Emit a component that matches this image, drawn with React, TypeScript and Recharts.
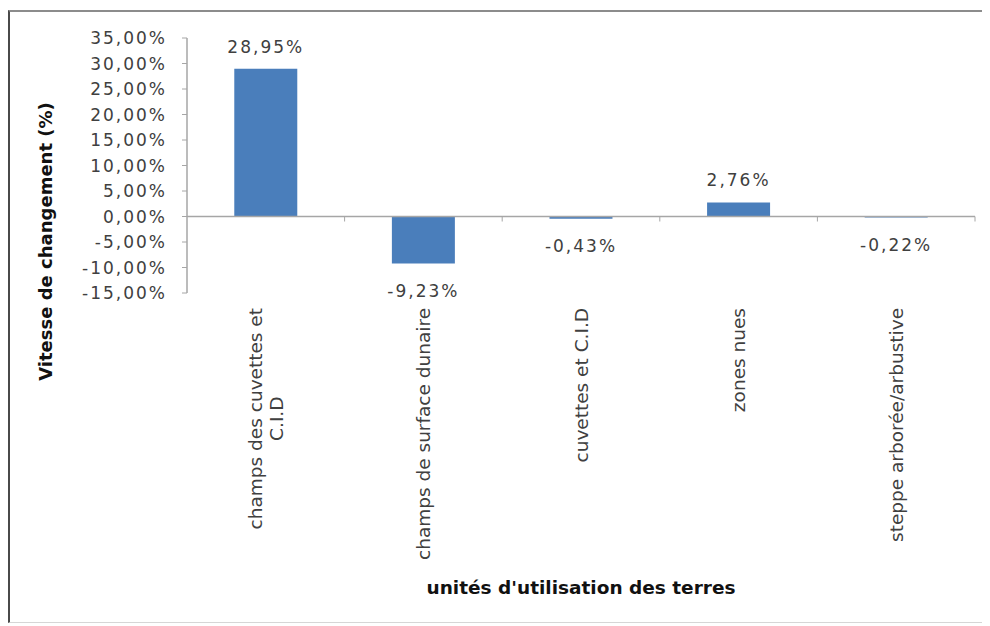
import React from 'react';
import { BarChart, Bar, XAxis, YAxis, LabelList, ReferenceLine, Label } from 'recharts';

// ---- data ----
const categories: string[] = [
  'champs des cuvettes et\nC.I.D',
  'champs de surface dunaire',
  'cuvettes et C.I.D',
  'zones nues',
  'steppe arborée/arbustive',
];
const values: number[] = [28.95, -9.23, -0.43, 2.76, -0.22];
const yTicks: number[] = [-15, -10, -5, 0, 5, 10, 15, 20, 25, 30, 35];
const yTitle = 'Vitesse de changement (%)';
const xTitle = "unités d'utilisation des terres";

const data = categories.map((c, i) => ({ name: c, value: values[i] }));

// ---- style ----
const FONT = '"DejaVu Sans", Verdana, sans-serif';
const AXIS = '#a6a6a6';
const TXT = '#404040';
const BAR = '#4A7EBB';
const CAT_FS = 18.5;

const fmt = (v: number) => v.toFixed(2).replace('.', ',') + '%';

let measureCtx: CanvasRenderingContext2D | null = null;
function measure(text: string, font: string): number {
  if (!measureCtx) measureCtx = document.createElement('canvas').getContext('2d');
  if (!measureCtx) return text.length * 10;
  measureCtx.font = font;
  return measureCtx.measureText(text).width;
}

const CategoryTick = (props: any) => {
  const { x, y, payload } = props;
  const lines = String(payload.value).split('\n');
  const maxW = Math.max(...lines.map((l) => measure(l, `${CAT_FS}px "DejaVu Sans"`)));
  const lh = 21;
  return (
    <g transform={`translate(${x},${y}) rotate(-90)`}>
      {lines.map((l, i) => (
        <text
          key={i}
          x={-maxW / 2}
          y={(i - (lines.length - 1) / 2) * lh}
          textAnchor="middle"
          dominantBaseline="central"
          fontFamily={FONT}
          fontSize={CAT_FS}
          fill={TXT}
        >
          {l}
        </text>
      ))}
    </g>
  );
};

const YTitle = (props: any) => {
  const vb = props.viewBox || { x: 0, y: 0, width: 0, height: 0 };
  const cx = vb.x + 35;
  const cy = vb.y + vb.height / 2 + 76;
  return (
    <text
      x={cx}
      y={cy}
      transform={`rotate(-90, ${cx}, ${cy})`}
      textAnchor="middle"
      dominantBaseline="central"
      fontFamily={FONT}
      fontWeight="bold"
      fontSize={18}
      fill="#111"
    >
      {yTitle}
    </text>
  );
};

const ZeroLine = (props: any) => {
  const { x1, x2, y1 } = props;
  const n = categories.length;
  const step = (x2 - x1) / n;
  return (
    <g>
      <line x1={x1} y1={y1} x2={x2} y2={y1} stroke={AXIS} strokeWidth={1.5} />
      {categories.map((_, i) => (
        <line
          key={i}
          x1={x1 + step * (i + 1)}
          x2={x1 + step * (i + 1)}
          y1={y1}
          y2={y1 + 5}
          stroke={AXIS}
          strokeWidth={1}
        />
      ))}
    </g>
  );
};

const ValueLabel = (props: any) => {
  const { x, y, width, height, value } = props;
  const cx = x + width / 2;
  const neg = value < 0;
  const top = Math.min(y, y + height);
  const bottom = Math.max(y, y + height);
  const ty = neg ? bottom + 21 : top - 16;
  return (
    <text
      x={cx}
      y={ty}
      textAnchor="middle"
      dominantBaseline={neg ? 'hanging' : 'alphabetic'}
      fontFamily={FONT}
      fontSize={17}
      letterSpacing={2}
      fill={TXT}
    >
      {fmt(value)}
    </text>
  );
};

export default function App() {
  return (
    <div
      style={{
        marginTop: 2,
        width: 982,
        borderLeft: '2px solid #4a4a4a',
        borderTop: '2px solid #8c8c8c',
        borderBottom: '1px solid #d6d6d6',
        background: '#fff',
        fontFamily: FONT,
        boxSizing: 'border-box',
      }}
    >
      <BarChart
        width={980}
        height={610}
        data={data}
        margin={{ top: 26, right: 15, bottom: 0, left: 0 }}
        barCategoryGap="30%"
      >
        <XAxis
          dataKey="name"
          axisLine={false}
          tickLine={false}
          tickSize={0}
          tickMargin={15}
          interval={0}
          height={329}
          tick={<CategoryTick />}
        >
          <Label
            value={xTitle}
            position="insideBottom"
            offset={28}
            fill="#111"
            fontSize={18.5}
            fontWeight="bold"
            fontFamily={FONT}
          />
        </XAxis>
        <YAxis
          width={177}
          domain={[-15, 35]}
          ticks={yTicks}
          interval={0}
          tickFormatter={fmt}
          axisLine={{ stroke: AXIS, strokeWidth: 1.5 }}
          tickLine={{ stroke: AXIS }}
          tickSize={5}
          tickMargin={15}
          tick={{ fill: TXT, fontSize: 17, fontFamily: FONT, letterSpacing: 2 } as any}
        >
          <Label content={<YTitle />} />
        </YAxis>
        <Bar dataKey="value" fill={BAR} isAnimationActive={false}>
          <LabelList dataKey="value" content={<ValueLabel />} />
        </Bar>
        <ReferenceLine y={0} shape={(p: any) => <ZeroLine {...p} />} />
      </BarChart>
    </div>
  );
}
